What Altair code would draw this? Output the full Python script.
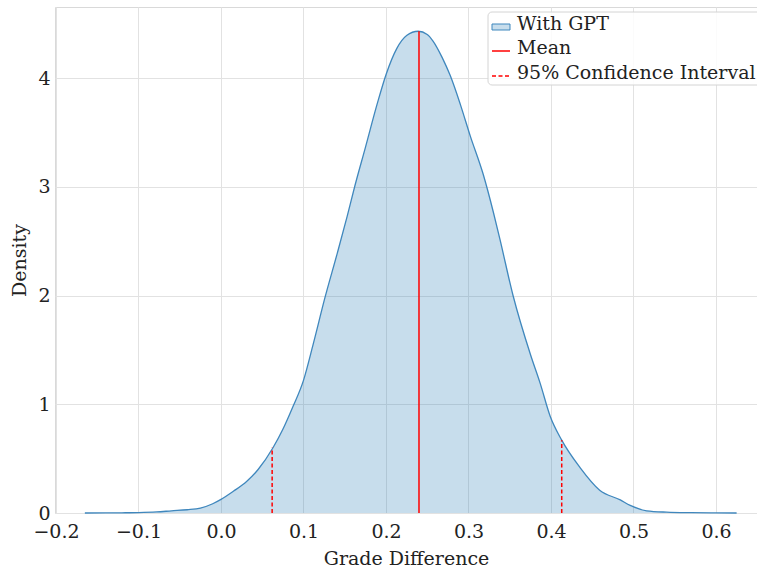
import altair as alt
import pandas as pd

# ---- data ----
kde_x = [-0.165, -0.14, -0.12, -0.10, -0.078, -0.06, -0.041, -0.025, -0.01, 0.0,
         0.015, 0.031, 0.045, 0.063, 0.075, 0.087, 0.10, 0.112, 0.126, 0.141,
         0.153, 0.162, 0.175, 0.19, 0.20, 0.213, 0.225, 0.239, 0.25, 0.257,
         0.268, 0.278, 0.29, 0.302, 0.318, 0.33, 0.338, 0.354, 0.375, 0.387,
         0.399, 0.413, 0.435, 0.459, 0.484, 0.496, 0.516, 0.54, 0.57, 0.60, 0.625]
kde_y = [0.0, 0.001, 0.002, 0.004, 0.01, 0.02, 0.03, 0.045, 0.085, 0.125,
         0.2, 0.29, 0.40, 0.60, 0.77, 0.975, 1.22, 1.56, 1.98, 2.39,
         2.73, 3.0, 3.36, 3.78, 4.03, 4.27, 4.39, 4.43, 4.40, 4.34,
         4.19, 4.02, 3.76, 3.47, 3.11, 2.77, 2.52, 2.0, 1.46, 1.19,
         0.89, 0.67, 0.42, 0.21, 0.12, 0.07, 0.02, 0.008, 0.003, 0.001, 0.0]

mean_value = [0.240]
mean_height = [4.43]
ci_values = [0.062, 0.413]
ci_heights = [0.60, 0.67]

x_ticks = [-0.2, -0.1, 0.0, 0.1, 0.2, 0.3, 0.4, 0.5, 0.6]
y_ticks = [0, 1, 2, 3, 4]
legend_labels = ["With GPT", "Mean", "95% Confidence Interval"]

# ---- styling ----
FONT = "DejaVu Serif"
FS = 19
TXT = "#222222"
BLUE = "#1f77b4"
W, H = 702, 506
xdom = [-0.2012, 0.6497]
ydom = [0, 4.653]

kde_df = pd.DataFrame({"x": kde_x, "density": kde_y})
mean_df = pd.DataFrame({"x": mean_value, "h": mean_height, "base": [0.0]})
ci_df = pd.DataFrame({"x": ci_values, "h": ci_heights, "base": [0.0] * len(ci_values)})

xscale = alt.Scale(domain=xdom, nice=False, zero=False)
yscale = alt.Scale(domain=ydom, nice=False, zero=False)

x_axis = alt.Axis(values=x_ticks, format=".1f", title="Grade Difference",
                  grid=True, gridColor="#e2e2e2", gridWidth=1,
                  ticks=False, tickSize=0, domain=False, labelFlush=False,
                  labelOverlap=False,
                  labelPadding=9, titlePadding=8,
                  labelFont=FONT, titleFont=FONT, labelFontSize=FS, titleFontSize=FS,
                  labelColor=TXT, titleColor=TXT, titleFontWeight="normal")
y_axis = alt.Axis(values=y_ticks, format="d", title="Density",
                  grid=True, gridColor="#e2e2e2", gridWidth=1,
                  ticks=False, tickSize=0, domain=False, labelFlush=False,
                  labelPadding=5, titlePadding=8,
                  labelFont=FONT, titleFont=FONT, labelFontSize=FS, titleFontSize=FS,
                  labelColor=TXT, titleColor=TXT, titleFontWeight="normal")

X = lambda f: alt.X(f, type="quantitative", scale=xscale, axis=x_axis)
Y = lambda f: alt.Y(f, type="quantitative", scale=yscale, axis=y_axis)

area = alt.Chart(kde_df).mark_area(color=BLUE, fillOpacity=0.25, interpolate="monotone").encode(
    x=X("x"), y=Y("density"))
line = alt.Chart(kde_df).mark_line(color="#3f87bd", strokeWidth=1.3, interpolate="monotone").encode(
    x=X("x"), y=Y("density"))

mean_rule = alt.Chart(mean_df).mark_rule(color="red", strokeWidth=1.5).encode(
    x=X("x"), y=Y("base"), y2="h:Q")
ci_rule = alt.Chart(ci_df).mark_rule(color="red", strokeWidth=1.5, strokeDash=[4, 2.5]).encode(
    x=X("x"), y=Y("base"), y2="h:Q")

# ---- legend (drawn as decoration) ----
one = pd.DataFrame({"k": [0]})
leg_frame = alt.Chart(one).mark_rect(fill="white", fillOpacity=0.85, stroke="#d4d4d4",
                                      strokeWidth=1, cornerRadius=4).encode(
    x=alt.value(433), x2=alt.value(740), y=alt.value(5), y2=alt.value(78))
leg_sym1 = alt.Chart(one).mark_rect(fill=BLUE, fillOpacity=0.25, stroke="#3f87bd", strokeWidth=1).encode(
    x=alt.value(437), x2=alt.value(455), y=alt.value(17), y2=alt.value(23))
leg_sym2 = alt.Chart(one).mark_rule(color="red", strokeWidth=1.5).encode(
    x=alt.value(437), x2=alt.value(455), y=alt.value(44))
leg_sym3 = alt.Chart(one).mark_rule(color="red", strokeWidth=1.5, strokeDash=[4, 2.5]).encode(
    x=alt.value(437), x2=alt.value(455), y=alt.value(69))

leg_df = pd.DataFrame({"label": legend_labels})
leg_texts = []
for lab, yy in zip(legend_labels, [23, 47, 72]):
    leg_texts.append(
        alt.Chart(leg_df).transform_filter(alt.datum.label == lab).mark_text(
            align="left", baseline="alphabetic", font=FONT, fontSize=FS, color=TXT).encode(
            x=alt.value(462), y=alt.value(yy), text="label:N"))

chart = alt.layer(area, line, mean_rule, ci_rule, leg_frame, leg_sym1, leg_sym2, leg_sym3,
                  *leg_texts).properties(
    width=W, height=H,
    autosize=alt.AutoSizeParams(type="none"),
    padding={"left": 55, "top": 7, "right": 0, "bottom": 54},
    background="white",
).configure_view(stroke="#d9d9d9", strokeWidth=1)

chart.save("out.html", embed_options={"renderer": "svg", "actions": False})
